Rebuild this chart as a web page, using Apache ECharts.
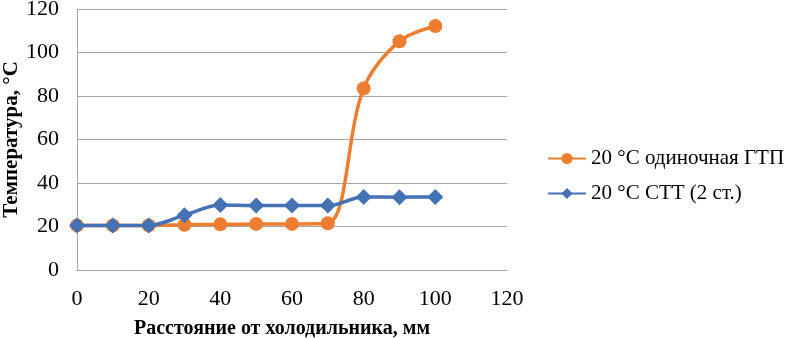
<!DOCTYPE html>
<html>
<head>
<meta charset="utf-8">
<script src="https://cdn.jsdelivr.net/npm/echarts@6/dist/echarts.min.js"></script>
<style>
  html, body { margin: 0; padding: 0; background: #fff; }
  #chart { width: 787px; height: 338px; }
</style>
</head>
<body>
<div id="chart"></div>
<script>
// расстояние от холодильника, мм
var distances = [0, 10, 20, 30, 40, 50, 60, 70, 80, 90, 100];
// 20 °С одиночная ГТП
var singleGtp = [20.5, 20.5, 20.5, 20.8, 21, 21.2, 21.2, 21.5, 83.5, 105.2, 112.2];
// 20 °С СТТ (2 ст.)
var stt2 = [20.5, 20.5, 20.5, 25.2, 29.9, 29.6, 29.6, 29.6, 33.6, 33.5, 33.6];

var seriesNames = ['20 °С одиночная ГТП', '20 °С СТТ (2 ст.)'];

function pairs(xs, ys) {
  return xs.map(function (x, i) { return [x, ys[i]]; });
}

var chart = echarts.init(document.getElementById('chart'));
var font = '"Liberation Serif", "Times New Roman", serif';

var option = {
  animation: false,
  textStyle: { fontFamily: font },
  grid: { left: 77, right: 280, top: 9, bottom: 68, outerBoundsMode: 'none', containLabel: false },
  legend: {
    orient: 'vertical',
    left: 542,
    top: 143,
    padding: 5,
    itemGap: 14,
    itemWidth: 38,
    itemHeight: 14,
    textStyle: { fontFamily: font, fontSize: 21, color: '#000' },
    data: seriesNames
  },
  xAxis: {
    type: 'value',
    min: 0, max: 120, interval: 20,
    name: 'Расстояние от холодильника, мм',
    nameLocation: 'middle',
    nameGap: 49,
    nameMoveOverlap: false,
    nameTextStyle: { fontFamily: font, fontSize: 20, fontWeight: 'bold', color: '#000', padding: [0, 20, 0, 0] },
    axisLine: { lineStyle: { color: '#a6a6a6', width: 1 } },
    axisTick: { show: false },
    splitLine: { show: false },
    axisLabel: { color: '#000', fontSize: 22, fontFamily: font, margin: 18 }
  },
  yAxis: {
    type: 'value',
    min: 0, max: 120, interval: 20,
    name: 'Температура, °С',
    nameLocation: 'middle',
    nameGap: 55,
    nameMoveOverlap: false,
    nameTextStyle: { fontFamily: font, fontSize: 21, fontWeight: 'bold', color: '#000' },
    axisLine: { show: true, lineStyle: { color: '#a6a6a6', width: 1 } },
    axisTick: { show: false },
    splitLine: { lineStyle: { color: '#a6a6a6', width: 1 } },
    axisLabel: { color: '#000', fontSize: 22, fontFamily: font, margin: 18 }
  },
  series: [
    {
      name: seriesNames[0],
      type: 'line',
      smooth: 0.35,
      data: pairs(distances, singleGtp),
      symbol: 'circle',
      symbolSize: 14,
      lineStyle: { color: '#ed7d31', width: 3.5 },
      itemStyle: { color: '#ed7d31' },
      z: 2
    },
    {
      name: seriesNames[1],
      type: 'line',
      smooth: 0.35,
      data: pairs(distances, stt2),
      symbol: 'diamond',
      symbolSize: 16,
      lineStyle: { color: '#4472b4', width: 3.5 },
      itemStyle: { color: '#4472b4' },
      z: 3
    }
  ]
};

chart.setOption(option);
</script>
</body>
</html>
